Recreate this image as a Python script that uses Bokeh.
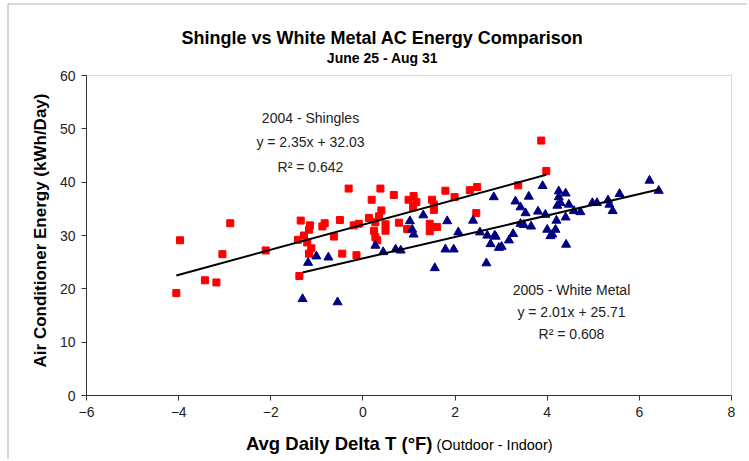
import math
from bokeh.plotting import figure
from bokeh.models import Label, Range1d, BoxAnnotation
from bokeh.embed import file_html
from bokeh.resources import INLINE

# ---- data ----
shingle_x = [-3.97, -2.88, -3.05, -2.11, -3.43, -3.18, -4.05, -1.35, -1.15, -1.17,
             -0.88, -0.83, -1.28, -1.41, -1.21, -1.12, -1.17, -0.63, -1.38, -0.31,
             0.38, 0.19, 0.67, 1.10, 0.99, 1.16, 1.09, 1.50, 1.54, 1.54,
             1.79, 1.99, 2.32, 2.48, 2.46, -0.50, -0.20, -0.09, 0.13, 0.35,
             0.40, 0.27, 0.49, 0.49, 0.24, 0.27, 0.31, 0.78, 0.96, 1.45,
             1.61, 1.45, -0.45, -0.14, 3.87, 3.98, 3.37]
shingle_y = [29.1, 32.3, 26.5, 27.2, 21.6, 21.2, 19.2, 32.8, 31.9, 31.1,
             31.7, 32.3, 30.0, 29.2, 28.7, 27.6, 26.6, 29.8, 22.4, 38.8,
             38.8, 36.7, 37.6, 37.4, 36.7, 36.3, 35.3, 36.7, 35.8, 34.8,
             38.4, 37.2, 38.5, 39.1, 34.2, 32.9, 31.9, 32.2, 33.3, 33.6,
             34.7, 32.5, 32.1, 30.9, 30.9, 29.7, 29.1, 32.4, 31.2, 32.2,
             31.6, 30.8, 26.6, 26.3, 47.8, 42.1, 39.4]

metal_x = [-1.19, -1.01, -0.75, -1.31, -0.55, 0.27, 0.44, 0.71, 0.82, 1.02,
           1.10, 1.07, 1.31, 1.83, 1.79, 1.97, 1.56, 2.07, 2.39, 2.54,
           2.84, 2.70, 2.86, 2.77, 2.95, 2.68, 3.31, 3.60, 3.90, 3.42,
           3.53, 3.80, 3.96, 4.25, 4.40, 4.25, 4.29, 4.22, 4.47, 4.58,
           4.72, 4.40, 4.20, 3.42, 3.49, 3.65, 4.00, 4.18, 4.11, 4.07,
           3.26, 3.17, 3.01, 2.88, 4.41, 4.98, 5.08, 5.32, 5.35, 5.42,
           5.57, 6.22, 6.42]
metal_y = [24.9, 26.1, 25.9, 18.1, 17.5, 28.1, 26.9, 27.4, 27.2, 32.7,
           30.2, 31.1, 33.8, 32.7, 27.4, 27.4, 23.9, 30.6, 32.8, 30.6,
           37.2, 30.0, 30.0, 28.4, 27.7, 24.8, 36.4, 37.3, 39.3, 35.3,
           34.2, 34.5, 33.9, 38.3, 37.9, 37.2, 36.1, 35.6, 35.8, 34.6,
           34.4, 33.4, 32.8, 32.2, 32.0, 31.7, 31.1, 31.1, 30.2, 29.9,
           30.3, 29.1, 27.9, 29.8, 28.3, 36.1, 36.1, 36.6, 35.8, 34.6,
           37.8, 40.3, 38.4]

shingle_fit = [2.35, 32.03]   # slope, intercept
metal_fit = [2.01, 25.71]

x_ticks = [-6, -4, -2, 0, 2, 4, 6, 8]
y_ticks = [0, 10, 20, 30, 40, 50, 60]
x_min, x_max = -6, 8
y_min, y_max = 0, 60

title_text = "Shingle vs White Metal AC Energy Comparison"
subtitle_text = "June 25 - Aug 31"
shingle_note = ["2004 - Shingles", "y = 2.35x + 32.03", "R\u00b2 = 0.642"]
metal_note = ["2005 - White Metal", "y = 2.01x + 25.71", "R\u00b2 = 0.608"]
xlabel_bold = "Avg Daily Delta T (\u00b0F)"
xlabel_plain = "(Outdoor - Indoor)"
ylabel = "Air Conditioner Energy (kWh/Day)"

FONT = "Liberation Sans, Arial, sans-serif"

# ---- layout (canvas pixels; the canvas sits at the page's top-left) ----
W, H = 747, 459
PL, PR, PT, PB = 86, 731, 75, 395   # plot-area edges inside the canvas
ppx = (PR - PL) / (x_max - x_min)
ppy = (PB - PT) / (y_max - y_min)
xr = Range1d(x_min - PL / ppx, x_max + (W - PR) / ppx)
yr = Range1d(y_min - (H - PB) / ppy, y_max + PT / ppy)

def dx(px):  # canvas pixel -> data x
    return xr.start + px / ppx

def dy(py):  # canvas pixel -> data y
    return yr.end - py / ppy

p = figure(width=W, height=H, output_backend="svg", toolbar_location=None,
           x_range=xr, y_range=yr, min_border=0, title=None)
p.background_fill_color = "white"
p.border_fill_color = "white"
p.outline_line_color = None
p.xgrid.visible = False
p.ygrid.visible = False

for ax in (p.xaxis, p.yaxis):
    ax.major_tick_in = 0
    ax.major_tick_out = 5
    ax.minor_tick_line_color = None
    ax.major_label_text_font = FONT
    ax.major_label_text_font_size = "14px"
    ax.major_label_text_color = "#222222"
    ax.axis_line_color = "#333333"
    ax.major_tick_line_color = "#333333"
    ax.major_label_standoff = 6
p.xaxis.ticker = x_ticks
p.yaxis.ticker = y_ticks
p.xaxis.bounds = (x_min, x_max)
p.yaxis.bounds = (y_min, y_max)
p.xaxis.fixed_location = y_min
p.yaxis.fixed_location = x_min

# plot-area outline (gray top/right) and chart border (black top/left)
p.add_layout(BoxAnnotation(left=x_min, right=x_max, bottom=y_min, top=y_max,
                           fill_color=None, line_color="#808080", line_width=1,
                           level="underlay"))
p.add_layout(BoxAnnotation(left=dx(7.5), top=dy(3.5),
                           right=xr.end + 5, bottom=yr.start - 50,
                           fill_color=None, line_color="black", line_width=1))

# scatter points
p.scatter(shingle_x, shingle_y, marker="square", size=7, color="#FF0000")
p.scatter(metal_x, metal_y, marker="triangle", size=9, color="#000080")

# trend lines
sx = [min(shingle_x), max(shingle_x)]
p.line(sx, [shingle_fit[0] * v + shingle_fit[1] for v in sx], line_color="black", line_width=2)
mx = [min(metal_x), max(metal_x)]
p.line(mx, [metal_fit[0] * v + metal_fit[1] for v in mx], line_color="black", line_width=2)

def lab(px, py, text, size, bold=False, align="center", color="#000000", angle=0.0):
    p.add_layout(Label(x=dx(px), y=dy(py), text=text, text_font=FONT, text_font_size=size,
                       text_font_style="bold" if bold else "normal", angle=angle,
                       text_align=align, text_baseline="middle", text_color=color))

lab(382, 37, title_text, "18px", bold=True)
lab(382, 57, subtitle_text, "14px", bold=True)
for txt, yy in zip(shingle_note, [117, 141, 166]):
    lab(310, yy, txt, "14px", color="#222222")
for txt, yy in zip(metal_note, [289, 311, 333]):
    lab(571, yy, txt, "14px", color="#222222")
lab(432, 443, xlabel_bold, "18.5px", bold=True, align="right")
lab(436, 444, xlabel_plain, "14.5px", align="left")
lab(40, 230, ylabel, "17px", bold=True, angle=math.pi / 2)

open("out.html", "w").write(file_html(p, INLINE))
